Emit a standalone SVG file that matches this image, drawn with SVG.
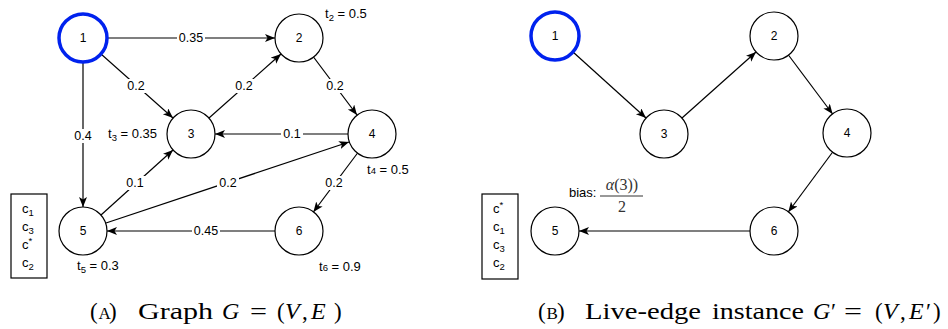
<svg xmlns="http://www.w3.org/2000/svg" width="948" height="329" viewBox="0 0 948 329">
<defs>
<marker id="arr" markerUnits="userSpaceOnUse" markerWidth="12" markerHeight="10" refX="10" refY="4" orient="auto">
<path d="M0,0 L10,4 L0,8 L2.5,4 Z" fill="#000"/>
</marker>
<style>
.n{fill:#fff;stroke:#000;stroke-width:1.2}
.s{fill:#fff;stroke:#0022ee;stroke-width:3.5}
.e{stroke:#000;stroke-width:1.2;fill:none;marker-end:url(#arr)}
.t{font-family:"Liberation Sans",Arial,sans-serif;font-size:12px;fill:#000;text-anchor:middle;dominant-baseline:central}
.lb{font-family:"Liberation Sans",Arial,sans-serif;font-size:12.5px;fill:#000;text-anchor:middle;dominant-baseline:central}
.bg{fill:#fff;stroke:none}
.th{font-family:"Liberation Sans",Arial,sans-serif;font-size:13px;fill:#000}
.sub{font-size:9.5px}
.cap{font-family:"Liberation Serif","Times New Roman",serif;font-size:23px;fill:#000}
.sc{font-size:17px}
.it{font-style:italic;font-size:24px}
.box{fill:#fff;stroke:#000;stroke-width:1.2}
</style>
</defs>

<g id="connectors">
<!-- panel A -->
<line class="e" x1="107" y1="38" x2="275" y2="38"/>
<line class="e" x1="101" y1="54" x2="173" y2="118"/>
<line class="e" x1="209" y1="118" x2="281" y2="54"/>
<line class="e" x1="313.5" y1="57" x2="357" y2="115"/>
<line class="e" x1="348" y1="134" x2="215" y2="134"/>
<line class="e" x1="83" y1="62" x2="83" y2="207"/>
<line class="e" x1="101" y1="215" x2="173" y2="150"/>
<line class="e" x1="106" y1="223" x2="349" y2="142"/>
<line class="e" x1="357.6" y1="153" x2="313.4" y2="212"/>
<line class="e" x1="275" y1="231" x2="107" y2="231"/>
<!-- panel B -->
<line class="e" x1="573" y1="52" x2="646" y2="118"/>
<line class="e" x1="682" y1="118" x2="756" y2="52"/>
<line class="e" x1="788.4" y1="55" x2="832.6" y2="114"/>
<line class="e" x1="832.7" y1="152" x2="788.3" y2="212"/>
<line class="e" x1="750" y1="231" x2="579" y2="231"/>
</g>

<g id="edge-labels">
<rect class="bg" x="177" y="31" width="28" height="14"/><text class="lb" x="191" y="38">0.35</text>
<rect class="bg" x="125" y="79" width="22" height="14"/><text class="lb" x="136" y="86">0.2</text>
<rect class="bg" x="233" y="79" width="22" height="14"/><text class="lb" x="244" y="86">0.2</text>
<rect class="bg" x="324" y="79" width="22" height="14"/><text class="lb" x="335" y="86">0.2</text>
<rect class="bg" x="72" y="129" width="22" height="14"/><text class="lb" x="83" y="136">0.4</text>
<rect class="bg" x="281" y="127" width="22" height="14"/><text class="lb" x="292" y="134">0.1</text>
<rect class="bg" x="124" y="176" width="22" height="14"/><text class="lb" x="135" y="183">0.1</text>
<rect class="bg" x="217" y="176" width="22" height="14"/><text class="lb" x="228" y="183">0.2</text>
<rect class="bg" x="323" y="176" width="22" height="14"/><text class="lb" x="334" y="183">0.2</text>
<rect class="bg" x="192" y="224" width="28" height="14"/><text class="lb" x="206" y="231">0.45</text>
</g>

<!-- Panel A nodes -->
<g id="a1"><circle class="s" cx="83" cy="38" r="24"/><text class="t" x="83" y="38">1</text></g>
<g id="a2"><circle class="n" cx="299" cy="38" r="24"/><text class="t" x="299" y="38">2</text>
<text class="th" x="325" y="18">t<tspan class="sub" dy="3">2</tspan><tspan dy="-3"> = 0.5</tspan></text></g>
<g id="a3"><circle class="n" cx="191" cy="134" r="24"/><text class="t" x="191" y="134">3</text>
<text class="th" x="108" y="138">t<tspan class="sub" dy="3">3</tspan><tspan dy="-3"> = 0.35</tspan></text></g>
<g id="a4"><circle class="n" cx="372" cy="134" r="24"/><text class="t" x="372" y="134">4</text>
<text class="th" x="367" y="174">t<tspan class="sub">4</tspan> = 0.5</text></g>
<g id="a5"><circle class="n" cx="83" cy="231" r="24"/><text class="t" x="83" y="231">5</text>
<text class="th" x="77" y="270">t<tspan class="sub" dy="3">5</tspan><tspan dy="-3"> = 0.3</tspan></text></g>
<g id="a6"><circle class="n" cx="299" cy="231" r="24"/><text class="t" x="299" y="231">6</text>
<text class="th" x="319" y="271">t<tspan class="sub">6</tspan> = 0.9</text></g>
<g id="a-box"><rect class="box" x="11" y="194" width="36" height="84"/>
<text class="th" x="22" y="213">c<tspan class="sub" dy="3">1</tspan></text>
<text class="th" x="22" y="231">c<tspan class="sub" dy="3">3</tspan></text>
<text class="th" x="22" y="249">c<tspan class="sub" dy="-5">*</tspan></text>
<text class="th" x="22" y="267">c<tspan class="sub" dy="3">2</tspan></text></g>

<!-- Panel B nodes -->
<g id="b1"><circle class="s" cx="555" cy="36" r="24"/><text class="t" x="555" y="36">1</text></g>
<g id="b2"><circle class="n" cx="774" cy="36" r="24"/><text class="t" x="774" y="36">2</text></g>
<g id="b3"><circle class="n" cx="664" cy="134" r="24"/><text class="t" x="664" y="134">3</text></g>
<g id="b4"><circle class="n" cx="847" cy="133" r="24"/><text class="t" x="847" y="133">4</text></g>
<g id="b5"><circle class="n" cx="555" cy="231" r="24"/><text class="t" x="555" y="231">5</text>
<text class="th" x="569" y="197">bias:</text>
<text font-family="Liberation Serif,serif" font-size="16" fill="#333" x="622" y="190" text-anchor="middle"><tspan font-style="italic">α</tspan>(3))</text>
<line x1="600" y1="196" x2="643" y2="196" stroke="#333" stroke-width="1"/>
<text font-family="Liberation Serif,serif" font-size="16" fill="#333" x="622" y="212" text-anchor="middle">2</text></g>
<g id="b6"><circle class="n" cx="774" cy="231" r="24"/><text class="t" x="774" y="231">6</text></g>
<g id="b-box"><rect class="box" x="482" y="194" width="36" height="85"/>
<text class="th" x="493" y="213">c<tspan class="sub" dy="-5">*</tspan></text>
<text class="th" x="493" y="231">c<tspan class="sub" dy="3">1</tspan></text>
<text class="th" x="493" y="249">c<tspan class="sub" dy="3">3</tspan></text>
<text class="th" x="493" y="267">c<tspan class="sub" dy="3">2</tspan></text></g>

<g id="captions">
<text class="cap" x="90" y="319">(</text>
<text class="cap sc" x="98.5" y="319">A</text>
<text class="cap" x="109" y="319">)</text>
<text class="cap" x="138" y="319" textLength="75" lengthAdjust="spacingAndGlyphs">Graph</text>
<text class="cap it" x="222" y="319">G</text>
<text class="cap" x="250" y="319" textLength="17" lengthAdjust="spacingAndGlyphs">=</text>
<text class="cap" x="277" y="319">(</text>
<text class="cap it" x="285" y="319">V</text>
<text class="cap" x="302" y="319">,</text>
<text class="cap it" x="311" y="319">E</text>
<text class="cap" x="334" y="319">)</text>

<text class="cap" x="538" y="319">(</text>
<text class="cap sc" x="546.5" y="319">B</text>
<text class="cap" x="557" y="319">)</text>
<text class="cap" x="585" y="319" textLength="116" lengthAdjust="spacingAndGlyphs">Live-edge</text>
<text class="cap" x="712" y="319" textLength="92" lengthAdjust="spacingAndGlyphs">instance</text>
<text class="cap it" x="813" y="319">G</text>
<text class="cap" x="831" y="319">′</text>
<text class="cap" x="844" y="319" textLength="18" lengthAdjust="spacingAndGlyphs">=</text>
<text class="cap" x="875" y="319">(</text>
<text class="cap it" x="883" y="319">V</text>
<text class="cap" x="900" y="319">,</text>
<text class="cap it" x="909" y="319">E</text>
<text class="cap" x="926" y="319">′</text>
<text class="cap" x="933" y="319">)</text>
</g>
</svg>
